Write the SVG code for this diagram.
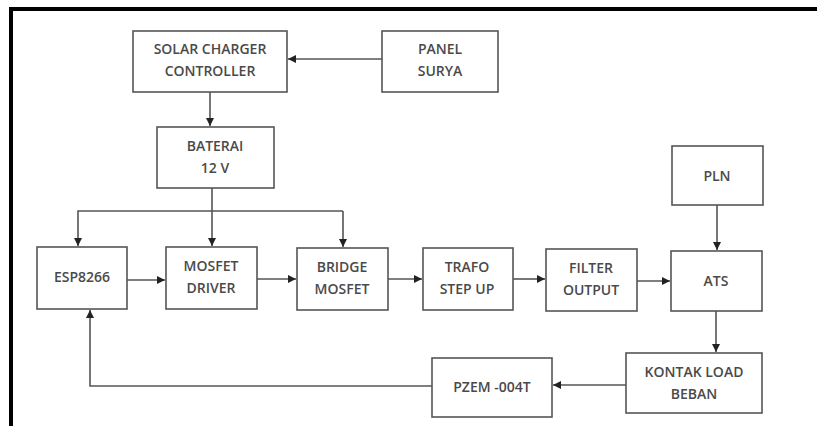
<svg xmlns="http://www.w3.org/2000/svg" width="817" height="426" viewBox="0 0 817 426">
<defs>
<marker id="ah" markerWidth="10" markerHeight="10" refX="9" refY="5" orient="auto" markerUnits="userSpaceOnUse">
<path d="M1,1 L9,5 L1,9 Z" fill="#222"/>
</marker>
<style>
.box{fill:#fff;stroke:#555;stroke-width:1.6}
.t{font-family:"Open Sans","Liberation Sans",sans-serif;font-size:14px;font-weight:600;fill:#4a4a4a;text-anchor:middle}
.c{fill:none;stroke:#555;stroke-width:1.6}
.a{marker-end:url(#ah)}
</style>
</defs>
<rect width="817" height="426" fill="#fff"/>
<g id="frame">
<rect x="9" y="7" width="808" height="4" fill="#000"/>
<rect x="9" y="7" width="4" height="419" fill="#000"/>
</g>
<g id="connectors">
<line class="c a" x1="382" y1="59" x2="288" y2="59"/>
<line class="c a" x1="210" y1="92" x2="210" y2="126"/>
<line class="c a" x1="212" y1="188" x2="212" y2="246"/>
<polyline class="c a" points="343,211 78,211 78,246"/>
<line class="c a" x1="343" y1="211" x2="343" y2="247"/>
<line class="c a" x1="127" y1="280" x2="165" y2="280"/>
<line class="c a" x1="257" y1="279" x2="296" y2="279"/>
<line class="c a" x1="388" y1="279" x2="422" y2="279"/>
<line class="c a" x1="513" y1="279" x2="545" y2="279"/>
<line class="c a" x1="637" y1="281" x2="670" y2="281"/>
<line class="c a" x1="717" y1="205" x2="717" y2="250"/>
<line class="c a" x1="716" y1="311" x2="716" y2="352"/>
<line class="c a" x1="626" y1="385" x2="553" y2="385"/>
<polyline class="c a" points="432,386 90,386 90,310"/>
</g>
<g id="solar">
<rect class="box" x="133" y="31" width="154" height="61"/>
<text class="t" x="210" y="54">SOLAR CHARGER</text>
<text class="t" x="210" y="76">CONTROLLER</text>
</g>
<g id="panel">
<rect class="box" x="382" y="31" width="116" height="61"/>
<text class="t" x="440" y="54">PANEL</text>
<text class="t" x="440" y="76">SURYA</text>
</g>
<g id="baterai">
<rect class="box" x="157" y="127" width="117" height="61"/>
<text class="t" x="215" y="151">BATERAI</text>
<text class="t" x="215" y="173">12 V</text>
</g>
<g id="pln">
<rect class="box" x="672" y="146" width="91" height="59"/>
<text class="t" x="717" y="181">PLN</text>
</g>
<g id="esp">
<rect class="box" x="37" y="247" width="90" height="62"/>
<text class="t" x="82" y="282">ESP8266</text>
</g>
<g id="driver">
<rect class="box" x="166" y="247" width="91" height="62"/>
<text class="t" x="211" y="271">MOSFET</text>
<text class="t" x="211" y="293">DRIVER</text>
</g>
<g id="bridge">
<rect class="box" x="297" y="248" width="91" height="62"/>
<text class="t" x="342" y="272">BRIDGE</text>
<text class="t" x="342" y="294">MOSFET</text>
</g>
<g id="trafo">
<rect class="box" x="423" y="248" width="90" height="62"/>
<text class="t" x="467" y="272">TRAFO</text>
<text class="t" x="467" y="294">STEP UP</text>
</g>
<g id="filter">
<rect class="box" x="546" y="249" width="91" height="62"/>
<text class="t" x="591" y="273">FILTER</text>
<text class="t" x="591" y="295">OUTPUT</text>
</g>
<g id="ats">
<rect class="box" x="671" y="251" width="91" height="60"/>
<text class="t" x="716" y="286">ATS</text>
</g>
<g id="kontak">
<rect class="box" x="626" y="353" width="136" height="60"/>
<text class="t" x="694" y="377">KONTAK LOAD</text>
<text class="t" x="694" y="399">BEBAN</text>
</g>
<g id="pzem">
<rect class="box" x="432" y="358" width="120" height="59"/>
<text class="t" x="492" y="392">PZEM -004T</text>
</g>
</svg>
